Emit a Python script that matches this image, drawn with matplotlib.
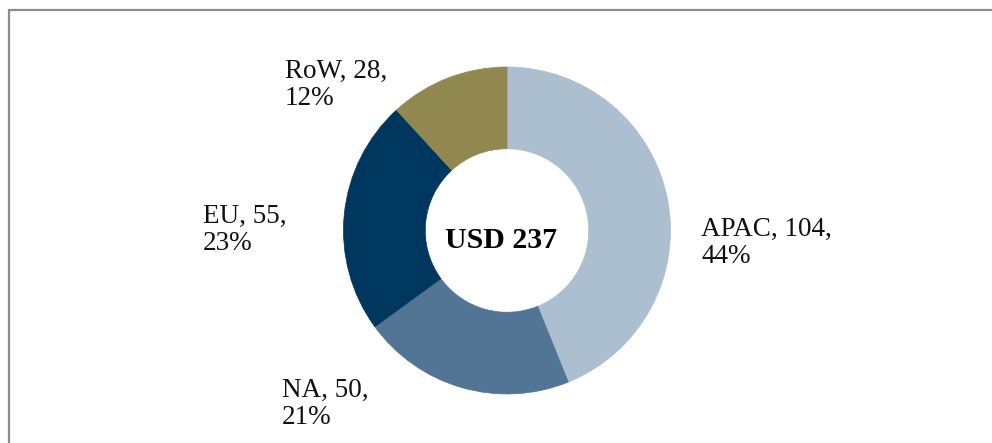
import matplotlib.pyplot as plt

regions = ['APAC', 'NA', 'EU', 'RoW']
values = [104, 50, 55, 28]
colors = ['#ABBFD0', '#527596', '#00375E', '#918850']
total_label = 'USD 237'

total = sum(values)
percents = [round(v / total * 100) for v in values]

plt.rcParams['font.family'] = ['Liberation Serif', 'DejaVu Serif']

fig = plt.figure(figsize=(9.92, 4.43), dpi=100)
ax = fig.add_axes([0, 0, 1, 1])

cx, cy, r = 507, 443 - 230.5, 163.5
wedges, _ = ax.pie(values, colors=colors, startangle=90, counterclock=False,
                   radius=r, center=(cx, cy),
                   wedgeprops=dict(width=r * 0.5, linewidth=0))
for w, c in zip(wedges, colors):
    w.set_edgecolor(c)
    w.set_linewidth(0.5)
ax.set_xlim(0, 992)
ax.set_ylim(0, 443)
ax.set_aspect('equal')
ax.axis('off')

# outer frame, only top and left edges fall inside the picture
ax.plot([9, 9, 1000], [-10, 433, 433], color='#8C8C8C', linewidth=1.6,
        solid_joinstyle='miter', clip_on=False)

label_pos = [(701, 443 - 217), (282, 443 - 378), (203, 443 - 204), (285, 443 - 59)]
for name, v, p, (x, y) in zip(regions, values, percents, label_pos):
    ax.text(x, y, f'{name}, {v},\n{p}%', fontsize=19.5, ha='left', va='top',
            linespacing=1.12, color='#111111')

ax.text(cx - 6, 443 - 248, total_label, fontsize=21.5, fontweight='bold',
        ha='center', va='baseline', color='black')

fig.savefig('out.png', dpi=100)
